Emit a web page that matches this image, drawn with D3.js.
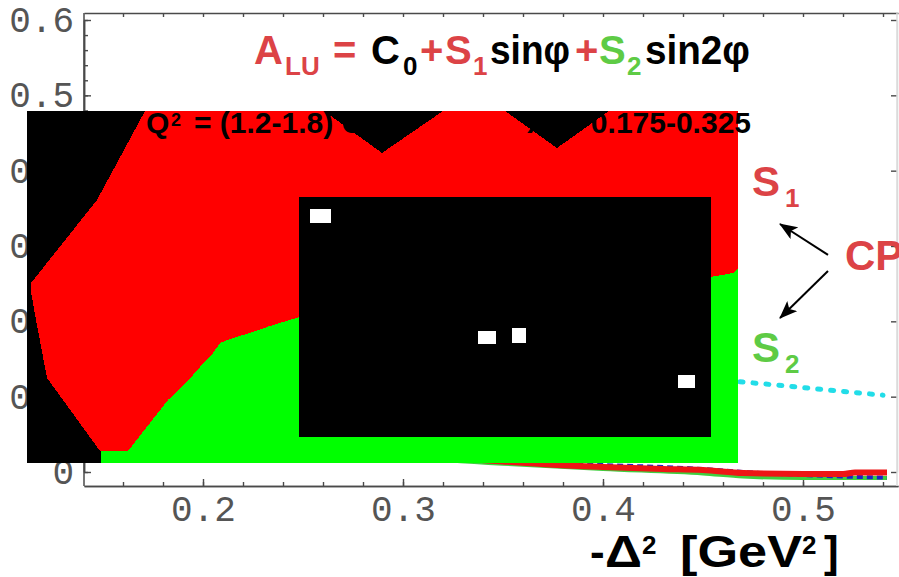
<!DOCTYPE html>
<html>
<head>
<meta charset="utf-8">
<script src="https://cdn.jsdelivr.net/npm/d3@7"></script>
<style>
  html, body { margin: 0; padding: 0; background: #fff; overflow: hidden; }
  svg { display: block; }
</style>
</head>
<body>
<svg id="chart" width="899" height="577"></svg>
<script>
// ---------- axis ticks ----------
const xMajor = [0.2, 0.3, 0.4, 0.5];
const xMinor = [0.16, 0.18, 0.2, 0.22, 0.24, 0.26, 0.28, 0.3, 0.32, 0.34, 0.36, 0.38,
                0.4, 0.42, 0.44, 0.46, 0.48, 0.5, 0.52, 0.54];
const yMajor = [0, 0.1, 0.2, 0.3, 0.4, 0.5, 0.6];
const yMinor = [0, 0.02, 0.04, 0.06, 0.08, 0.1, 0.12, 0.14, 0.16, 0.18, 0.2, 0.22, 0.24,
                0.26, 0.28, 0.3, 0.32, 0.34, 0.36, 0.38, 0.4, 0.42, 0.44, 0.46, 0.48,
                0.5, 0.52, 0.54, 0.56, 0.58, 0.6];

// ---------- model curves vs -Delta^2 ----------
const cyanT = [0.16, 0.20, 0.25, 0.30, 0.35, 0.40, 0.45, 0.47, 0.50, 0.52, 0.54];
const cyanA = [0.30, 0.245, 0.205, 0.175, 0.152, 0.136, 0.124, 0.1195, 0.112, 0.107, 0.102];

const greenT = [0.15, 0.20, 0.25, 0.30, 0.35, 0.40, 0.45, 0.47, 0.50, 0.542];
const greenA = [0.08, 0.05, 0.032, 0.02, 0.011, 0.004, -0.002, -0.006, -0.008, -0.008];

const blueT = [0.15, 0.20, 0.25, 0.30, 0.35, 0.38, 0.40, 0.43, 0.45, 0.47, 0.50, 0.52, 0.542];
const blueA = [0.10, 0.065, 0.045, 0.03, 0.018, 0.012, 0.0093, 0.0066, 0.004, 0.0, -0.004, -0.006, -0.0075];

const redT = [0.15, 0.20, 0.25, 0.30, 0.35, 0.375, 0.40, 0.43, 0.45, 0.47, 0.50, 0.52, 0.526, 0.542];
const redA = [0.09, 0.06, 0.04, 0.025, 0.014, 0.0095, 0.0066, 0.004, 0.0027, -0.0013, -0.0027, -0.0027, -0.0005, -0.0005];

// ---------- filled regions (in -Delta^2, A units) ----------
const blockX = [0.112, 0.4675];
const blockY = [0.4792, 0.0119];
const innerX = [0.248, 0.454];
const innerY = [0.3651, 0.0465];

// boundary between the S1 and S2 regions, left to right
const splitLine = [[0.1625, 0.0279], [0.1825, 0.0956], [0.192, 0.1195], [0.1985, 0.1394],
                   [0.205, 0.158], [0.2085, 0.1712], [0.215, 0.1779], [0.2235, 0.1845],
                   [0.232, 0.1925], [0.24, 0.1991], [0.2485, 0.2058], [0.454, 0.2589],
                   [0.465, 0.2642], [0.4675, 0.2695]];
// outline of the S1 region: left edge, then top edge with two dips
const s1Left = [[0.1485, 0.0279], [0.122, 0.1248], [0.1165, 0.2018], [0.114, 0.2389],
                [0.114, 0.2509], [0.147, 0.3611], [0.171, 0.4792]];
const s1Top = [[0.2605, 0.4792], [0.2895, 0.4235], [0.32, 0.4792], [0.351, 0.4792],
               [0.377, 0.4301], [0.403, 0.4792], [0.4675, 0.4792]];
const s2Base = [[0.4675, 0.0119], [0.149, 0.0119], [0.149, 0.0279]];

// small square markers
const sqX0 = [0.2535, 0.3375, 0.3545, 0.4375];
const sqX1 = [0.264, 0.3465, 0.3615, 0.446];
const sqY0 = [0.3491, 0.1872, 0.1912, 0.1288];
const sqY1 = [0.3305, 0.1699, 0.1712, 0.1115];

// CP arrows: [tail, tip]
const arrowTail = [[0.5125, 0.2881], [0.5125, 0.2668]];
const arrowTip = [[0.4885, 0.3292], [0.4885, 0.2044]];

// ---------- colours ----------
const txtRed = "#dc4346";
const txtGreen = "#5ecb45";

// ---------- scales ----------
const svg = d3.select("#chart");
const x = d3.scaleLinear().domain([0.1405, 0.5475]).range([84, 898]);
const y = d3.scaleLinear().domain([0, 0.6]).range([472, 20]);
const plotTop = 13, plotBottom = 486, plotLeft = 84, plotRight = 898;

svg.append("rect").attr("width", 899).attr("height", 577).attr("fill", "#fff");

// ---------- frame & ticks ----------
const axisCol = "#4a4a4a";
function styleAxis(g, col) {
  g.selectAll("path.domain").attr("stroke", col).attr("stroke-width", 1.5);
  g.selectAll(".tick line").attr("stroke", col).attr("stroke-width", 1.4);
}
const monoFont = "'Liberation Mono', 'Courier New', monospace";

// bottom
const gB1 = svg.append("g").attr("transform", `translate(0,${plotBottom})`)
  .call(d3.axisBottom(x).tickValues(xMinor).tickSize(-4).tickSizeOuter(0).tickFormat(""));
styleAxis(gB1, axisCol);
const gB2 = svg.append("g").attr("transform", `translate(0,${plotBottom})`)
  .call(d3.axisBottom(x).tickValues(xMajor).tickSize(-7).tickSizeOuter(0).tickPadding(9)
        .tickFormat(d3.format(".1f")));
styleAxis(gB2, axisCol);
gB2.selectAll(".tick text").attr("font-family", monoFont).attr("font-size", 36)
   .attr("fill", "#555");

// top
const gT = svg.append("g").attr("transform", `translate(0,${plotTop})`)
  .call(d3.axisTop(x).tickValues(xMinor).tickSize(-4).tickSizeOuter(0).tickFormat(""));
styleAxis(gT, axisCol);

// left
const gL1 = svg.append("g").attr("transform", `translate(${plotLeft},0)`)
  .call(d3.axisLeft(y).tickValues(yMinor).tickSize(-4).tickSizeOuter(0).tickFormat(""));
styleAxis(gL1, axisCol);
const gL2 = svg.append("g").attr("transform", `translate(${plotLeft},0)`)
  .call(d3.axisLeft(y).tickValues(yMajor).tickSize(-7).tickSizeOuter(0).tickPadding(10)
        .tickFormat(d => d === 0 ? "0" : d3.format(".1f")(d)));
styleAxis(gL2, axisCol);
gL2.selectAll(".tick text").attr("font-family", monoFont).attr("font-size", 36)
   .attr("fill", "#555");
// frame line over the full height
svg.append("line").attr("x1", plotLeft).attr("x2", plotLeft)
  .attr("y1", plotTop).attr("y2", plotBottom).attr("stroke", axisCol).attr("stroke-width", 1.5);

// right (faint)
const gR = svg.append("g").attr("transform", `translate(${plotRight - 1},0)`)
  .call(d3.axisRight(y).tickValues(yMajor).tickSize(-6).tickSizeOuter(0).tickFormat(""));
styleAxis(gR, axisCol);
gR.selectAll("path.domain").attr("stroke", "#d8d8d8");
svg.append("line").attr("x1", plotRight - 1).attr("x2", plotRight - 1)
  .attr("y1", plotTop).attr("y2", plotBottom).attr("stroke", "#dcdcdc").attr("stroke-width", 1.5);

// ---------- curves ----------
const line = d3.line().x(d => x(d[0])).y(d => y(d[1])).curve(d3.curveMonotoneX);
const pairs = (t, a) => t.map((v, i) => [v, a[i]]);

svg.append("path").datum(pairs(greenT, greenA)).attr("d", line)
  .attr("fill", "none").attr("stroke", "#3fcf3f").attr("stroke-width", 4);
svg.append("path").datum(pairs(blueT, blueA)).attr("d", line)
  .attr("fill", "none").attr("stroke", "#2020c8").attr("stroke-width", 4)
  .attr("stroke-dasharray", "6,4");
svg.append("path").datum(pairs(redT, redA)).attr("d", line)
  .attr("fill", "none").attr("stroke", "#ee1515").attr("stroke-width", 6);
svg.append("path").datum(pairs(cyanT, cyanA)).attr("d", line)
  .attr("fill", "none").attr("stroke", "#22dde8").attr("stroke-width", 5)
  .attr("stroke-linecap", "round").attr("stroke-dasharray", "3,10");

// ---------- text helpers ----------
const sans = "'Liberation Sans', Arial, Helvetica, sans-serif";
function piece(t, px, py, size, col, width) {
  const el = svg.append("text").attr("x", px).attr("y", py)
    .attr("font-family", sans).attr("font-weight", "bold")
    .attr("font-size", size).attr("fill", col).text(t);
  if (width) el.attr("textLength", width).attr("lengthAdjust", "spacingAndGlyphs");
  return el;
}

// ---------- title ----------
const tb = 64, ts = 75;
piece("A", 254, tb, 40, txtRed);
piece("LU", 285, ts, 26, txtRed);
piece("=", 333, tb, 40, txtRed);
piece("C", 371, tb, 40, "#000");
piece("0", 403, ts, 26, "#000");
piece("+", 420, tb, 40, txtRed);
piece("S", 445, tb, 40, txtRed);
piece("1", 473, ts, 26, txtRed);
piece("sin\u03C6", 490, tb, 40, "#000", 80);
piece("+", 575, tb, 40, txtRed);
piece("S", 599, tb, 40, txtGreen);
piece("2", 627, ts, 26, txtGreen);
piece("sin2\u03C6", 645, tb, 40, "#000", 105);

// ---------- side labels ----------
piece("S", 752, 196, 42, txtRed);
piece("1", 785, 207, 26, txtRed);
piece("S", 752, 362, 42, txtGreen);
piece("2", 785, 373, 26, txtGreen);
piece("CP", 845, 270, 42, txtRed);

const defs = svg.append("defs");
defs.append("marker").attr("id", "head").attr("markerUnits", "userSpaceOnUse")
  .attr("markerWidth", 18).attr("markerHeight", 14).attr("refX", 17).attr("refY", 7)
  .attr("orient", "auto")
  .append("path").attr("d", "M0,0 L18,7 L0,14 L4,7 Z").attr("fill", "#000");
arrowTail.forEach((tl, i) => {
  svg.append("line")
    .attr("x1", x(tl[0])).attr("y1", y(tl[1]))
    .attr("x2", x(arrowTip[i][0])).attr("y2", y(arrowTip[i][1]))
    .attr("stroke", "#000").attr("stroke-width", 2).attr("marker-end", "url(#head)");
});

// ---------- x axis title ----------
const xb = 567;
piece("-", 590, xb, 44, "#000");
piece("\u0394", 605, xb, 44, "#000", 37);
piece("2", 642, 554, 26, "#000");
piece("[GeV", 680, xb, 44, "#000", 122);
piece("2", 802, 554, 26, "#000");
piece("]", 824, xb, 44, "#000");

// ---------- filled regions ----------
const region = svg.append("g").attr("shape-rendering", "crispEdges");
region.append("rect")
  .attr("x", x(blockX[0])).attr("y", y(blockY[0]))
  .attr("width", x(blockX[1]) - x(blockX[0])).attr("height", y(blockY[1]) - y(blockY[0]))
  .attr("fill", "#000");

const poly = d3.line().x(d => x(d[0])).y(d => y(d[1]));
const s2Poly = [s2Base[2], ...splitLine, s2Base[0], s2Base[1]];
region.append("path").attr("d", poly(s2Poly) + "Z").attr("fill", "#00ff00");

const s1Poly = [...s1Top, ...splitLine.slice().reverse(), ...s1Left];
region.append("path").attr("d", poly(s1Poly) + "Z").attr("fill", "#ff0000");

region.append("rect")
  .attr("x", x(innerX[0])).attr("y", y(innerY[0]))
  .attr("width", x(innerX[1]) - x(innerX[0])).attr("height", y(innerY[1]) - y(innerY[0]))
  .attr("fill", "#000");

sqX0.forEach((v, i) => {
  region.append("rect")
    .attr("x", x(v)).attr("y", y(sqY0[i]))
    .attr("width", x(sqX1[i]) - x(v)).attr("height", y(sqY1[i]) - y(sqY0[i]))
    .attr("fill", "#fff");
});

// ---------- kinematic bin label ----------
const sb = 133;
piece("Q", 146, sb, 30, "#000");
piece("2", 171, 126, 18, "#000");
piece("= (1.2-1.8) GeV", 194, sb, 30, "#000");
const t2 = svg.append("text").attr("x", 751).attr("y", sb).attr("text-anchor", "end")
  .attr("font-family", sans).attr("font-weight", "bold").attr("font-size", 30).attr("fill", "#000");
t2.append("tspan").text("x");
t2.append("tspan").attr("font-size", 18).attr("dy", 6).text("B");
t2.append("tspan").attr("dy", -6).text(" = 0.175-0.325");
</script>
</body>
</html>
